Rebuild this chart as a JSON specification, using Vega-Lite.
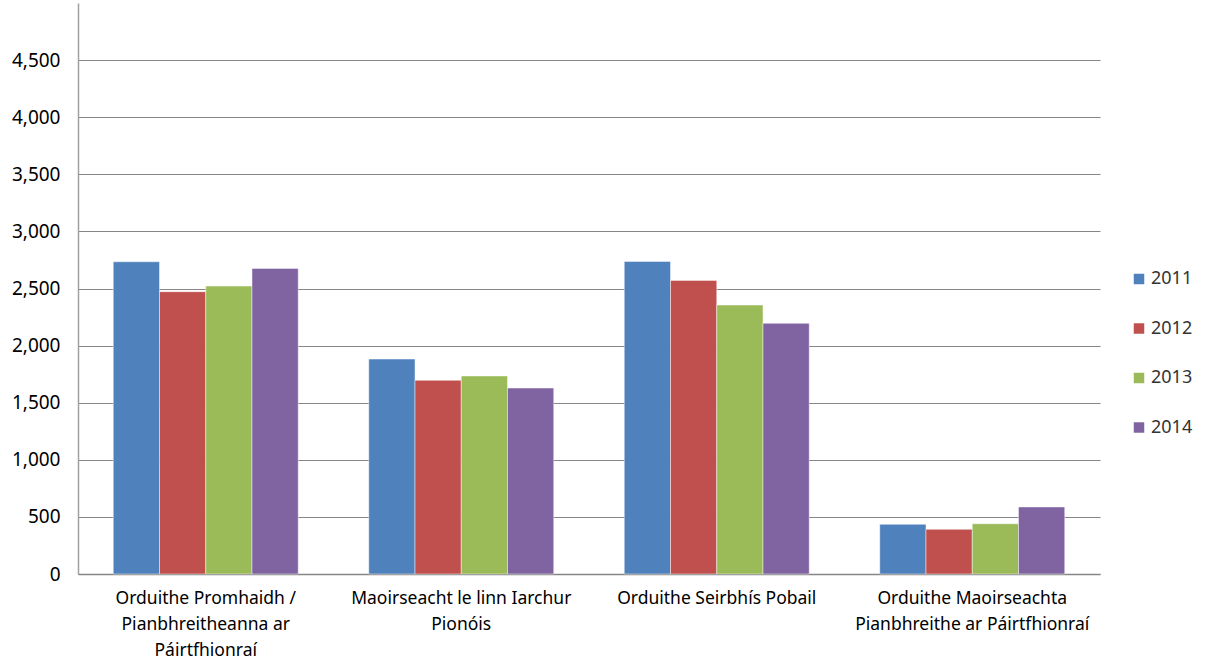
{
  "$schema": "https://vega.github.io/schema/vega-lite/v6.json",
  "autosize": {"type": "none"},
  "padding": {"left": 78, "top": 3, "right": 127, "bottom": 91},
  "width": 1022,
  "height": 571,
  "background": "white",
  "config": {
    "view": {"stroke": null},
    "font": "Noto Sans",
    "axis": {"labelColor": "#000000", "labelFont": "Noto Sans"}
  },
  "data": {
    "values": [
      {"category": "Orduithe Promhaidh / Pianbhreitheanna ar Páirtfhionraí", "year": "2011", "value": 2734},
      {"category": "Orduithe Promhaidh / Pianbhreitheanna ar Páirtfhionraí", "year": "2012", "value": 2472},
      {"category": "Orduithe Promhaidh / Pianbhreitheanna ar Páirtfhionraí", "year": "2013", "value": 2521},
      {"category": "Orduithe Promhaidh / Pianbhreitheanna ar Páirtfhionraí", "year": "2014", "value": 2676},
      {"category": "Maoirseacht le linn Iarchur Pionóis", "year": "2011", "value": 1882},
      {"category": "Maoirseacht le linn Iarchur Pionóis", "year": "2012", "value": 1696},
      {"category": "Maoirseacht le linn Iarchur Pionóis", "year": "2013", "value": 1734},
      {"category": "Maoirseacht le linn Iarchur Pionóis", "year": "2014", "value": 1628},
      {"category": "Orduithe Seirbhís Pobail", "year": "2011", "value": 2737},
      {"category": "Orduithe Seirbhís Pobail", "year": "2012", "value": 2571},
      {"category": "Orduithe Seirbhís Pobail", "year": "2013", "value": 2355},
      {"category": "Orduithe Seirbhís Pobail", "year": "2014", "value": 2195},
      {"category": "Orduithe Maoirseachta Pianbhreithe ar Páirtfhionraí", "year": "2011", "value": 435},
      {"category": "Orduithe Maoirseachta Pianbhreithe ar Páirtfhionraí", "year": "2012", "value": 391},
      {"category": "Orduithe Maoirseachta Pianbhreithe ar Páirtfhionraí", "year": "2013", "value": 440},
      {"category": "Orduithe Maoirseachta Pianbhreithe ar Páirtfhionraí", "year": "2014", "value": 587}
    ]
  },
  "mark": {"type": "bar", "stroke": "#ffffff", "strokeOpacity": 0.45, "strokeWidth": 1},
  "encoding": {
    "x": {
      "field": "category",
      "type": "nominal",
      "sort": null,
      "scale": {"paddingInner": 0.276, "paddingOuter": 0.138},
      "axis": {
        "title": null,
        "labelAngle": 0,
        "labelFontSize": 17.5,
        "labelPadding": 15,
        "labelLineHeight": 26,
        "labelLimit": 400,
        "labelBaseline": "top",
        "ticks": false,
        "domainColor": "#868686",
        "domainWidth": 1.5,
        "labelExpr": "datum.label == 'Orduithe Promhaidh / Pianbhreitheanna ar Páirtfhionraí' ? ['Orduithe Promhaidh /', 'Pianbhreitheanna ar', 'Páirtfhionraí'] : datum.label == 'Maoirseacht le linn Iarchur Pionóis' ? ['Maoirseacht le linn Iarchur', 'Pionóis'] : datum.label == 'Orduithe Maoirseachta Pianbhreithe ar Páirtfhionraí' ? ['Orduithe Maoirseachta', 'Pianbhreithe ar Páirtfhionraí'] : datum.label"
      }
    },
    "xOffset": {"field": "year", "type": "nominal", "scale": {"paddingInner": 0, "paddingOuter": 0}},
    "y": {
      "field": "value",
      "type": "quantitative",
      "scale": {"domain": [0, 5000], "nice": false},
      "axis": {
        "title": null,
        "values": [0, 500, 1000, 1500, 2000, 2500, 3000, 3500, 4000, 4500],
        "format": ",d",
        "labelFontSize": 19,
        "labelPadding": 18,
        "ticks": false,
        "grid": true,
        "gridColor": "#868686",
        "gridWidth": 1.2,
        "domainColor": "#a0a0a0",
        "domainWidth": 1.5
      }
    },
    "color": {
      "field": "year",
      "type": "nominal",
      "scale": {"domain": ["2011", "2012", "2013", "2014"], "range": ["#4F81BD", "#C0504D", "#9BBB59", "#8064A2"]},
      "legend": {
        "title": null,
        "orient": "none",
        "legendX": 1052,
        "legendY": 267,
        "symbolType": "square",
        "symbolSize": 110,
        "symbolStrokeWidth": 0,
        "labelFontSize": 18,
        "labelColor": "#333333",
        "rowPadding": 31.5,
        "labelOffset": 3
      }
    }
  }
}
